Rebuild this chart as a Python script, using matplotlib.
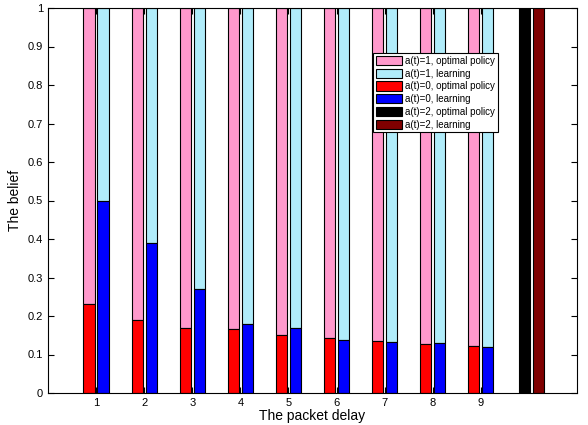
import numpy as np
import matplotlib
matplotlib.use("Agg")
import matplotlib.pyplot as plt

plt.rcParams['font.family'] = ['Liberation Sans', 'DejaVu Sans']

# packet delay values
delay = np.arange(1, 10)
# belief of action a(t)=0 (bottom segment), rest of the bar is a(t)=1
opt_a0 = [0.23, 0.19, 0.17, 0.165, 0.15, 0.143, 0.135, 0.128, 0.123]
learn_a0 = [0.50, 0.39, 0.27, 0.18, 0.17, 0.137, 0.132, 0.13, 0.12]
# a(t)=2 bars placed after the last delay
opt_a2 = 1.0
learn_a2 = 1.0

opt_a1 = [1 - v for v in opt_a0]
learn_a1 = [1 - v for v in learn_a0]

fig = plt.figure(figsize=(5.88, 4.25), dpi=100)
ax = fig.add_axes([48/588, 32/425, 529/588, 385/425])

w = 0.235
kw = dict(width=w, edgecolor='black', linewidth=0.8)
ax.bar(delay - 0.145, opt_a1, bottom=opt_a0, color='#ff99cc', label='a(t)=1, optimal policy', **kw)
ax.bar(delay + 0.145, learn_a1, bottom=learn_a0, color='#b0ecfa', label='a(t)=1, learning', **kw)
ax.bar(delay - 0.145, opt_a0, color='#ff0000', label='a(t)=0, optimal policy', **kw)
ax.bar(delay + 0.145, learn_a0, color='#0000ff', label='a(t)=0, learning', **kw)
ax.bar([10 - 0.085], [opt_a2], color='black', label='a(t)=2, optimal policy', **kw)
ax.bar([10 + 0.205], [learn_a2], color='#7f0000', label='a(t)=2, learning', **kw)

ax.set_xlim(0, 11)
ax.set_ylim(0, 1)
ax.set_xticks(delay)
ax.set_yticks(np.arange(0, 1.01, 0.1))
ax.set_yticklabels(['0'] + ['%.1f' % v for v in np.arange(0.1, 0.95, 0.1)] + ['1'])
ax.tick_params(direction='in', top=True, right=True, labelsize=8, length=4)
for s in ax.spines.values():
    s.set_linewidth(0.8)

ax.set_xlabel('The packet delay', fontsize=10, labelpad=1)
ax.set_ylabel('The belief', fontsize=10, labelpad=4)

leg = ax.legend(loc='upper left', bbox_to_anchor=(325/529, 1 - 45/385), fontsize=7,
                fancybox=False, edgecolor='black', framealpha=1,
                handlelength=2.7, handleheight=1.1, labelspacing=0.28,
                handletextpad=0.3, borderpad=0.3, borderaxespad=0)
leg.get_frame().set_linewidth(0.8)

fig.savefig('out.png', dpi=100)
